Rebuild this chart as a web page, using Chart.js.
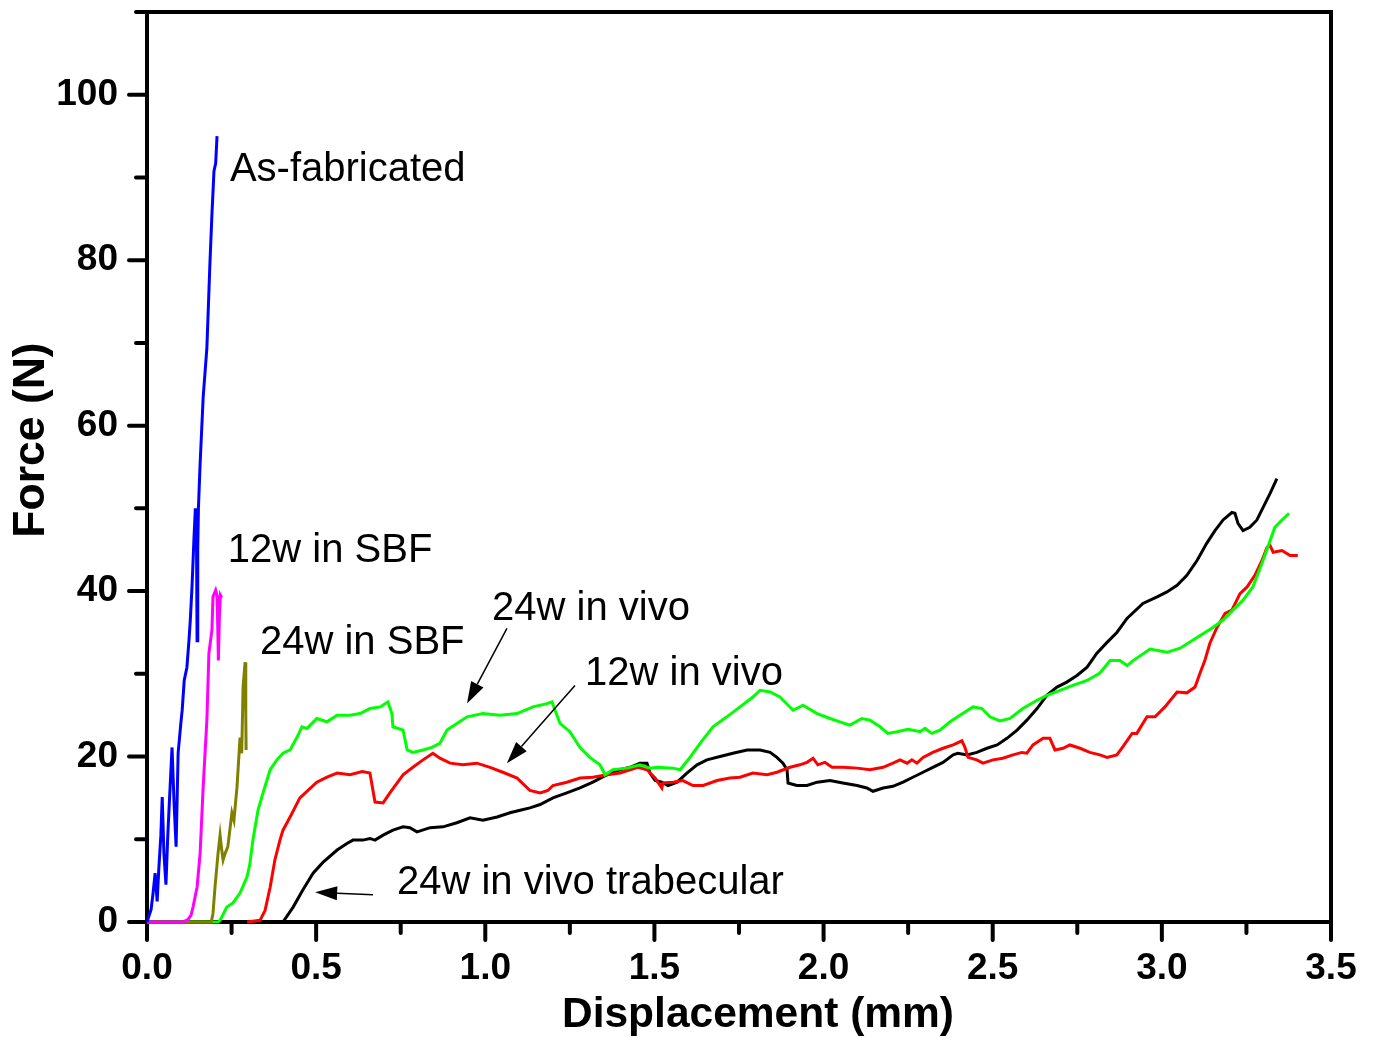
<!DOCTYPE html>
<html><head><meta charset="utf-8">
<script src="https://cdn.jsdelivr.net/npm/chart.js@4.4.1/dist/chart.umd.min.js"></script>
<style>html,body{margin:0;padding:0;background:#fff;}#wrap{width:1376px;height:1038px;}</style>
</head><body><div id="wrap"><canvas id="c" width="1376" height="1038"></canvas></div>
<script>
// ---- data (displacement mm, force N) ----
const seriesNames = ['As-fabricated','12w in SBF','24w in SBF','24w in vivo','12w in vivo','24w in vivo trabecular'];
const asFabricated = [[0,0],[0.012,1.5],[0.018,3.5],[0.024,5.9],[0.030,2.5],[0.035,6.5],[0.041,10.5],[0.045,15.1],[0.050,8.3],[0.056,4.5],[0.061,10],[0.066,14.4],[0.074,21.1],[0.080,14.4],[0.086,9.1],[0.092,20.4],[0.100,24],[0.104,25.6],[0.110,29.2],[0.118,30.8],[0.124,34],[0.128,36.5],[0.133,40.5],[0.139,46.5],[0.143,50],[0.146,49],[0.148,34],[0.150,45],[0.152,50],[0.157,55.4],[0.166,63.4],[0.177,69.4],[0.186,79.6],[0.192,85.6],[0.198,90.8],[0.203,91.7],[0.207,95]];
const sbf12w = [[0,0],[0.106,0],[0.121,0.3],[0.130,0.8],[0.136,1.8],[0.148,4.2],[0.157,8.3],[0.166,16.3],[0.177,24.4],[0.183,32.5],[0.192,35.3],[0.195,39.3],[0.203,40.1],[0.207,39.5],[0.209,36],[0.211,31.6],[0.214,37],[0.217,39.5],[0.221,39.2]];
const sbf24w = [[0,0],[0.190,0],[0.195,1],[0.201,4.2],[0.210,8.3],[0.216,10.5],[0.220,9],[0.225,7.5],[0.231,8.3],[0.239,9.1],[0.246,11.5],[0.251,13.2],[0.257,12.3],[0.266,16.3],[0.275,22.3],[0.280,20.4],[0.284,28.4],[0.290,31.4],[0.292,25],[0.293,20.8]];
const vivo24w = [[0,0],[0.21,0],[0.216,0.2],[0.236,1.8],[0.254,2.3],[0.275,3.5],[0.296,5.5],[0.304,7],[0.313,9.9],[0.328,13.5],[0.343,15.6],[0.364,18.4],[0.384,19.6],[0.402,20.4],[0.423,20.8],[0.443,22.3],[0.458,23.6],[0.473,23.4],[0.502,24.6],[0.532,24.2],[0.562,25.0],[0.600,25.0],[0.630,25.2],[0.659,25.8],[0.689,26.0],[0.712,26.6],[0.724,25.2],[0.727,23.6],[0.757,23.2],[0.769,20.8],[0.786,20.5],[0.816,20.8],[0.842,21.1],[0.866,21.6],[0.887,23.2],[0.916,24.0],[0.946,24.8],[0.993,25.2],[1.043,25.0],[1.094,25.2],[1.141,26.0],[1.182,26.4],[1.197,26.6],[1.221,24.0],[1.250,23.0],[1.280,21.1],[1.309,19.9],[1.339,19.0],[1.354,17.8],[1.377,18.4],[1.419,18.6],[1.457,19.0],[1.487,18.6],[1.508,18.7],[1.555,18.6],[1.576,18.4],[1.605,19.9],[1.635,21.6],[1.673,23.6],[1.714,24.8],[1.753,26.0],[1.791,27.2],[1.812,28.0],[1.842,27.8],[1.871,27.2],[1.910,25.6],[1.939,26.2],[1.981,25.2],[2.019,24.6],[2.048,24.2],[2.078,23.8],[2.113,24.6],[2.137,24.4],[2.167,23.6],[2.190,22.8],[2.217,23.0],[2.250,23.3],[2.285,23.0],[2.300,23.4],[2.320,22.8],[2.344,23.2],[2.374,24.2],[2.403,25.0],[2.442,26.0],[2.468,25.8],[2.492,24.8],[2.521,24.3],[2.551,24.6],[2.589,25.8],[2.631,26.8],[2.660,27.4],[2.699,28.0],[2.737,28.6],[2.779,29.2],[2.817,30.1],[2.847,31.6],[2.876,31.6],[2.897,31.0],[2.915,31.6],[2.965,33.0],[3.015,32.6],[3.054,33.1],[3.104,34.4],[3.151,35.6],[3.181,36.5],[3.210,37.7],[3.240,38.9],[3.269,40.5],[3.299,43.7],[3.320,46.1],[3.334,47.7],[3.355,48.6],[3.376,49.4]];
const vivo12w = [[0.296,0],[0.334,0.2],[0.349,1.4],[0.364,4.2],[0.378,7.5],[0.393,9.9],[0.402,11.1],[0.423,12.7],[0.452,15.0],[0.476,15.9],[0.502,16.9],[0.532,17.5],[0.562,18.0],[0.600,17.8],[0.636,18.2],[0.659,18.0],[0.668,15.9],[0.674,14.5],[0.698,14.4],[0.718,15.6],[0.739,16.8],[0.757,17.8],[0.786,18.7],[0.816,19.6],[0.845,20.4],[0.866,19.8],[0.896,19.2],[0.934,19.0],[0.975,19.2],[1.014,18.7],[1.052,18.1],[1.094,17.4],[1.132,15.9],[1.162,15.6],[1.185,15.9],[1.200,16.5],[1.241,16.9],[1.280,17.4],[1.318,17.5],[1.360,17.8],[1.398,18.0],[1.428,18.4],[1.451,18.7],[1.478,18.4],[1.502,17.4],[1.522,16.2],[1.525,16.8],[1.555,16.9],[1.584,17.1],[1.614,16.5],[1.644,16.5],[1.685,17.1],[1.723,17.4],[1.753,17.5],[1.791,18.0],[1.833,17.8],[1.862,18.1],[1.901,18.7],[1.930,19.0],[1.951,19.3],[1.969,19.8],[1.983,19.0],[2.004,19.3],[2.025,18.7],[2.057,18.7],[2.099,18.6],[2.137,18.4],[2.176,18.7],[2.205,19.2],[2.226,19.6],[2.247,19.2],[2.261,19.6],[2.276,19.2],[2.294,19.9],[2.323,20.5],[2.353,21.0],[2.383,21.4],[2.409,21.9],[2.418,21.1],[2.427,19.9],[2.453,19.6],[2.471,19.2],[2.501,19.6],[2.530,19.8],[2.560,20.2],[2.586,20.5],[2.601,20.4],[2.619,21.4],[2.649,22.2],[2.669,22.2],[2.684,20.8],[2.708,21.0],[2.728,21.4],[2.758,21.0],[2.787,20.5],[2.817,20.2],[2.838,19.9],[2.867,20.2],[2.885,21.2],[2.912,22.8],[2.926,22.8],[2.956,24.8],[2.980,24.8],[3.009,26.0],[3.045,27.8],[3.074,27.7],[3.098,28.4],[3.113,30.1],[3.127,31.6],[3.142,33.7],[3.163,35.6],[3.187,37.3],[3.207,37.7],[3.231,39.7],[3.252,40.5],[3.275,41.9],[3.296,43.7],[3.311,45.3],[3.320,45.5],[3.329,44.7],[3.355,44.9],[3.379,44.3],[3.402,44.3]];
const trabecular24w = [[0.402,0],[0.432,1.8],[0.461,3.9],[0.491,5.9],[0.520,7.2],[0.562,8.7],[0.591,9.5],[0.609,9.9],[0.638,9.9],[0.659,10.1],[0.674,9.9],[0.698,10.5],[0.727,11.1],[0.757,11.5],[0.777,11.4],[0.798,10.9],[0.837,11.4],[0.875,11.5],[0.916,12.0],[0.955,12.6],[0.993,12.3],[1.035,12.7],[1.073,13.2],[1.103,13.5],[1.132,13.8],[1.162,14.2],[1.200,15.0],[1.241,15.6],[1.280,16.2],[1.318,16.9],[1.360,17.8],[1.398,18.4],[1.428,18.7],[1.457,19.2],[1.478,19.2],[1.487,18.0],[1.502,17.1],[1.522,16.9],[1.540,16.5],[1.567,16.9],[1.596,18.0],[1.626,19.0],[1.655,19.6],[1.694,20.0],[1.732,20.4],[1.774,20.8],[1.812,20.8],[1.842,20.5],[1.862,19.9],[1.880,19.2],[1.892,18.4],[1.895,16.8],[1.921,16.5],[1.951,16.5],[1.981,16.9],[2.019,17.1],[2.057,16.8],[2.099,16.5],[2.128,16.2],[2.146,15.8],[2.176,16.2],[2.205,16.4],[2.235,16.9],[2.264,17.5],[2.294,18.1],[2.323,18.7],[2.353,19.3],[2.383,20.2],[2.397,20.4],[2.424,20.2],[2.453,20.5],[2.483,21.0],[2.513,21.4],[2.542,22.2],[2.572,23.2],[2.601,24.4],[2.631,25.8],[2.660,27.4],[2.690,28.4],[2.719,29.0],[2.749,29.8],[2.779,30.8],[2.808,32.5],[2.838,33.8],[2.867,35.0],[2.897,36.7],[2.944,38.5],[2.986,39.3],[3.015,39.9],[3.045,40.7],[3.074,41.9],[3.104,43.7],[3.133,45.8],[3.157,47.3],[3.181,48.6],[3.207,49.5],[3.216,49.4],[3.225,48.2],[3.240,47.3],[3.260,47.7],[3.281,48.6],[3.299,50.1],[3.320,51.8],[3.340,53.6]];

// ---- axis ticks ----
const xMajorTicks = [0,0.5,1.0,1.5,2.0,2.5,3.0,3.5];
const xMinorTicks = [0.25,0.75,1.25,1.75,2.25,2.75,3.25];
const yMajorTicks = [0,20,40,60,80,100];
const yMinorTicks = [10,30,50,70,90,110];
const xTitle = 'Displacement (mm)';
const yTitle = 'Force (N)';

// ---- annotations (data coords) ----
const noteTexts = ['As-fabricated','12w in SBF','24w in SBF','24w in vivo','12w in vivo','24w in vivo trabecular'];
const noteX = [0.245,0.239,0.334,1.020,1.295,0.739];
const noteY = [89.6,43.5,32.4,36.5,28.7,3.4];
const arrowFrom = [[1.064,35.5],[1.265,28.6],[0.668,3.3]];
const arrowTo = [[0.946,26.4],[1.064,19.2],[0.497,3.6]];

const seriesData = [asFabricated, sbf12w, sbf24w, vivo24w, vivo12w, trabecular24w];
const seriesColors = ['#0000FF','#FF00FF','#808000','#00FF00','#FF0000','#000000'];

const FONT = "'Liberation Sans', Arial, sans-serif";

const framePlugin = {
  id: 'frame',
  beforeDatasetsDraw(chart) {
    const {ctx, chartArea: a, scales: {x, y}} = chart;
    ctx.save();
    ctx.strokeStyle = '#000';
    ctx.lineWidth = 4;
    ctx.lineCap = 'square';
    ctx.beginPath();
    ctx.moveTo(a.left, a.top); ctx.lineTo(a.right, a.top);
    ctx.lineTo(a.right, a.bottom); ctx.lineTo(a.left, a.bottom); ctx.closePath();
    ctx.stroke();
    ctx.lineCap = 'round';
    ctx.beginPath();
    xMajorTicks.forEach(v => { const p = x.getPixelForValue(v); ctx.moveTo(p, a.bottom); ctx.lineTo(p, a.bottom + 18); });
    xMinorTicks.forEach(v => { const p = x.getPixelForValue(v); ctx.moveTo(p, a.bottom); ctx.lineTo(p, a.bottom + 11); });
    yMajorTicks.forEach(v => { const p = y.getPixelForValue(v); ctx.moveTo(a.left, p); ctx.lineTo(a.left - 18, p); });
    yMinorTicks.forEach(v => { const p = y.getPixelForValue(v); ctx.moveTo(a.left, p); ctx.lineTo(a.left - 11, p); });
    ctx.stroke();
    // axis titles
    ctx.fillStyle = '#000';
    ctx.textAlign = 'center';
    ctx.textBaseline = 'middle';
    ctx.font = 'bold 42.5px ' + FONT;
    ctx.fillText(xTitle, a.left + 611, a.bottom + 93);
    ctx.save();
    ctx.translate(a.left - 115, a.top + 428);
    ctx.rotate(-Math.PI / 2);
    ctx.font = 'bold 44.5px ' + FONT;
    ctx.fillText(yTitle, 0, 0);
    ctx.restore();
    ctx.restore();
  },
  afterDatasetsDraw(chart) {
    const {ctx, scales: {x, y}} = chart;
    ctx.save();
    ctx.fillStyle = '#000';
    ctx.font = '40px ' + FONT;
    ctx.textBaseline = 'alphabetic';
    ctx.textAlign = 'left';
    noteTexts.forEach((t, i) => ctx.fillText(t, x.getPixelForValue(noteX[i]), y.getPixelForValue(noteY[i])));
    ctx.strokeStyle = '#000';
    ctx.lineWidth = 1.5;
    arrowFrom.forEach((f, i) => {
      const x0 = x.getPixelForValue(f[0]), y0 = y.getPixelForValue(f[1]);
      const x1 = x.getPixelForValue(arrowTo[i][0]), y1 = y.getPixelForValue(arrowTo[i][1]);
      const ang = Math.atan2(y1 - y0, x1 - x0);
      const L = 22, W = 7;
      const bx = x1 - L * Math.cos(ang), by = y1 - L * Math.sin(ang);
      ctx.beginPath(); ctx.moveTo(x0, y0); ctx.lineTo(bx, by); ctx.stroke();
      ctx.beginPath();
      ctx.moveTo(x1, y1);
      ctx.lineTo(bx + W * Math.sin(ang), by - W * Math.cos(ang));
      ctx.lineTo(bx - W * Math.sin(ang), by + W * Math.cos(ang));
      ctx.closePath(); ctx.fill();
    });
    ctx.restore();
  }
};

new Chart(document.getElementById('c'), {
  type: 'line',
  data: {
    datasets: seriesData.map((d, i) => ({
      label: seriesNames[i],
      data: d.map(p => ({x: p[0], y: p[1]})),
      borderColor: seriesColors[i],
      backgroundColor: seriesColors[i],
      borderWidth: 3,
      pointRadius: 0,
      tension: 0,
      fill: false,
      clip: false
    }))
  },
  options: {
    responsive: false,
    animation: false,
    devicePixelRatio: 1,
    layout: {padding: {top: 12, right: 45, left: 0, bottom: 0}},
    plugins: {legend: {display: false}, tooltip: {enabled: false}, title: {display: false}},
    scales: {
      x: {
        type: 'linear', min: 0, max: 3.5,
        afterFit(s) { s.height = 116; s.paddingLeft = 0; s.paddingRight = 0; },
        grid: {display: false, drawTicks: false},
        border: {display: false},
        ticks: {stepSize: 0.5, padding: 25, color: '#000', maxRotation: 0, autoSkip: false,
          font: {family: FONT, size: 37, weight: 'bold'},
          callback: v => v.toFixed(1)},
        title: {display: false}
      },
      y: {
        type: 'linear', min: 0, max: 110,
        afterFit(s) { s.width = 147; s.paddingTop = 0; s.paddingBottom = 0; },
        grid: {display: false, drawTicks: false},
        border: {display: false},
        ticks: {stepSize: 20, includeBounds: false, padding: 29, color: '#000', autoSkip: false,
          font: {family: FONT, size: 37, weight: 'bold'},
          callback: v => (v % 20 === 0 ? String(v) : null)},
        title: {display: false}
      }
    }
  },
  plugins: [framePlugin]
});
</script></body></html>
